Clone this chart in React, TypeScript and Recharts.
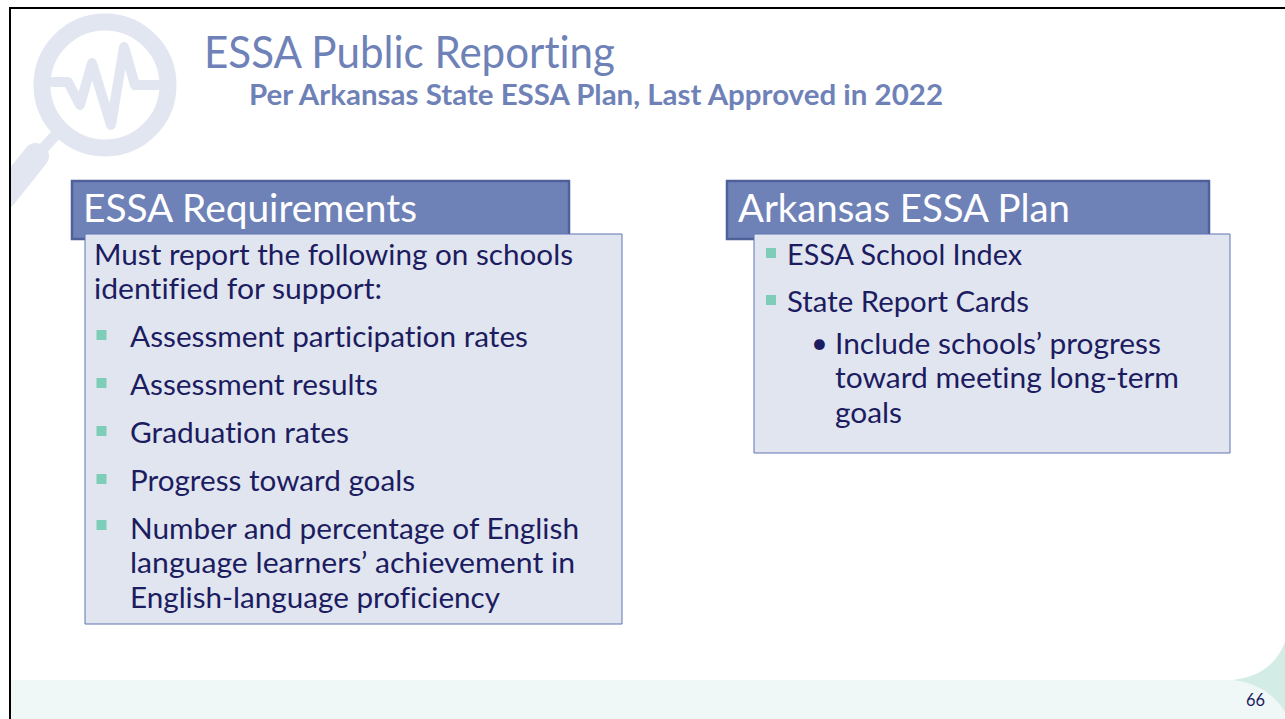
import React from 'react'
import { ComposedChart, XAxis, YAxis, ZAxis, ReferenceArea, ReferenceLine, ReferenceDot, Line, Scatter } from 'recharts'

const WIDTH = 1285
const HEIGHT = 719

const title = 'ESSA Public Reporting'
const subtitle = 'Per Arkansas State ESSA Plan, Last Approved in 2022'
const leftHeader = 'ESSA Requirements'
const rightHeader = 'Arkansas ESSA Plan'
const pageNumber = '66'

const leftLines = [
    'Must report the following on schools',
    'identified for support:',
    'Assessment participation rates',
    'Assessment results',
    'Graduation rates',
    'Progress toward goals',
    'Number and percentage of English',
    'language learners’ achievement in',
    'English-language proficiency',
]
const leftX = [94, 94, 130, 130, 130, 130, 130, 130, 130]
const leftY = [265, 299, 347, 395, 443, 491, 539, 573, 608]
const leftW = [479, 288, 398, 248, 219, 285, 449, 445, 370]

const rightLines = [
    'ESSA School Index',
    'State Report Cards',
    'Include schools’ progress',
    'toward meeting long-term',
    'goals',
]
const rightX = [787, 787, 835, 835, 835]
const rightY = [265, 312, 354, 388, 423]
const rightW = [235, 242, 326, 344, 67]
const subBullet = '•'

const bulletX = [101.5, 101.5, 101.5, 101.5, 101.5, 771, 771]
const bulletY = [335, 383, 431, 479, 525, 253, 300]
const bullets = bulletX.map((x, i) => ({ x, y: bulletY[i] }))

const pulseX = [53, 68, 80, 92, 111, 124, 135, 157]
const pulseY = [82, 82, 105, 63, 125, 47, 85, 85]
const pulse = pulseX.map((x, i) => ({ x, y: pulseY[i] }))

const NAVY = '#1c1c60'
const BLUE = '#6f82b8'
const WATERMARK = '#e2e6f0'

function Txt({ x, y, w, size, fill, weight, children }: any) {
    return (
        <ReferenceDot
            x={x}
            y={y}
            r={0}
            stroke='none'
            fill='none'
            label={() => (
                <text
                    x={x}
                    y={y}
                    fontFamily='Lato'
                    fontSize={size}
                    fontWeight={weight || 400}
                    fill={fill}
                    textLength={w}
                    lengthAdjust={w ? 'spacingAndGlyphs' : undefined}
                    style={{ fontVariantLigatures: 'none' }}
                >
                    {children}
                </text>
            )}
        />
    )
}

export default function App() {
    return (
        <div style={{ position: 'fixed', left: 0, top: 0, width: WIDTH, height: HEIGHT, background: '#fff' }}>
            <ComposedChart width={WIDTH} height={HEIGHT} data={pulse} margin={{ top: 0, right: 0, bottom: 0, left: 0 }}>
                <XAxis type='number' dataKey='x' domain={[0, WIDTH]} hide />
                <YAxis type='number' domain={[0, HEIGHT]} reversed hide />
                <ZAxis range={[100, 100]} />

                {/* footer band */}
                <rect x={10} y={680} width={WIDTH} height={39} fill='#eff8f7' />
                <path d='M1233,680 Q1272,676 1285,642 L1285,712 Q1268,684 1233,680 Z' fill='#d3ede6' />

                {/* left and right boxes */}
                <ReferenceArea x1={72} x2={569} y1={181} y2={239} fill={BLUE} fillOpacity={1} stroke='#4f6199' strokeWidth={2.5} />
                <ReferenceArea x1={85} x2={622} y1={234} y2={624} fill='#e1e5f0' fillOpacity={1} stroke='#5f73b0' strokeWidth={1} />
                <ReferenceArea x1={727} x2={1209} y1={181} y2={239} fill={BLUE} fillOpacity={1} stroke='#4f6199' strokeWidth={2.5} />
                <ReferenceArea x1={754} x2={1230} y1={234} y2={453} fill='#e1e5f0' fillOpacity={1} stroke='#5f73b0' strokeWidth={1} />

                {/* magnifier watermark */}
                <ReferenceDot x={105} y={85} r={63} fill='none' stroke={WATERMARK} strokeWidth={17} ifOverflow='visible' />
                <Line dataKey='y' stroke={WATERMARK} strokeWidth={10} dot={false} activeDot={false} isAnimationActive={false} strokeLinejoin='round' strokeLinecap='round' />
                <ReferenceLine segment={[{ x: 62, y: 128 }, { x: 40, y: 152 }]} stroke={WATERMARK} strokeWidth={11} />
                <ReferenceLine segment={[{ x: 36, y: 156 }, { x: 4, y: 196 }]} stroke={WATERMARK} strokeWidth={26} strokeLinecap='round' />

                {/* slide frame */}
                <ReferenceLine segment={[{ x: 0, y: 3.5 }, { x: WIDTH, y: 3.5 }]} stroke='#fff' strokeWidth={7} />
                <ReferenceLine segment={[{ x: 4.5, y: 0 }, { x: 4.5, y: HEIGHT }]} stroke='#fff' strokeWidth={9} />
                <ReferenceLine segment={[{ x: 9, y: 8 }, { x: WIDTH, y: 8 }]} stroke='#000' strokeWidth={2} />
                <ReferenceLine segment={[{ x: 10, y: 7 }, { x: 10, y: HEIGHT }]} stroke='#000' strokeWidth={2} />

                <Scatter data={bullets} dataKey='y' shape='square' fill='#7dcdb8' isAnimationActive={false} />

                <Txt x={204} y={68} w={411} size={44} fill={BLUE}>{title}</Txt>
                <Txt x={249} y={105} w={694} size={28} fill={BLUE} weight={700}>{subtitle}</Txt>
                <Txt x={83} y={222} w={334} size={39} fill='#fff'>{leftHeader}</Txt>
                <Txt x={738} y={222} w={332} size={39} fill='#fff'>{rightHeader}</Txt>
                {leftLines.map((line, i) => (
                    <Txt key={line} x={leftX[i]} y={leftY[i]} w={leftW[i]} size={29} fill={NAVY}>{line}</Txt>
                ))}
                {rightLines.map((line, i) => (
                    <Txt key={line} x={rightX[i]} y={rightY[i]} w={rightW[i]} size={29} fill={NAVY}>{line}</Txt>
                ))}
                <Txt x={811} y={353} size={29} fill={NAVY}>{subBullet}</Txt>
                <Txt x={1246} y={706} w={19} size={17} fill={NAVY}>{pageNumber}</Txt>
            </ComposedChart>
        </div>
    )
}
